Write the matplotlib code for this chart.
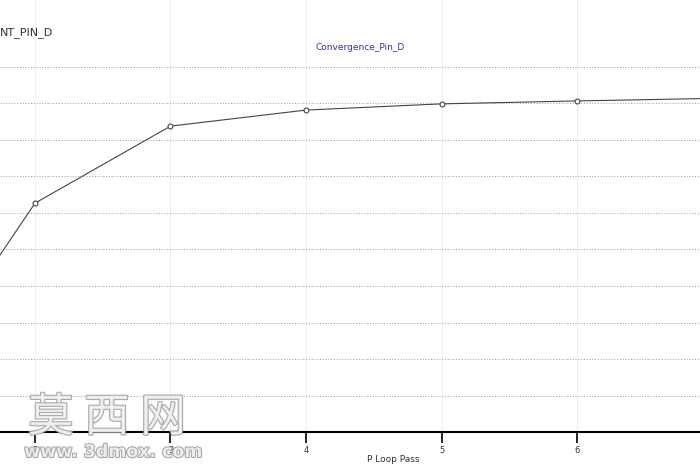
import matplotlib
matplotlib.use("Agg")
import matplotlib.pyplot as plt
import matplotlib.patheffects as pe

# Convergence values per P loop pass
passes = [1, 2, 3, 4, 5, 6, 7]
convergence = [0.077, 0.627, 0.838, 0.882, 0.899, 0.907, 0.914]
x_ticks = [2, 3, 4, 5, 6]
y_grid = [0.1, 0.2, 0.3, 0.4, 0.5, 0.6, 0.7, 0.8, 0.9, 1.0]

fig = plt.figure(figsize=(7, 4.65), dpi=100, facecolor="white")
# the screenshot is cropped: the axes run past the figure edges
ax = fig.add_axes([0, 33 / 465, 1, 432 / 465])

ax.plot(passes, convergence, color="#444444", lw=0.8, marker="o", ms=3.5,
        mfc="white", mec="#444444", mew=0.8)

ax.set_xticks(x_ticks)
ax.set_xticklabels([str(t) for t in x_ticks], fontsize=6, color="#333333")
ax.set_yticks(y_grid)
ax.set_xlim(2 - 35 / 135.5, 6 + 123 / 135.5)
ax.set_ylim(0, 432 / 365)
ax.tick_params(axis="x", direction="out", length=8, width=1.2, color="black", pad=2)
ax.tick_params(axis="y", left=False, labelleft=False)
ax.yaxis.grid(True, ls=(0, (1, 1.5)), color="#aaaaaa", lw=0.8)
ax.xaxis.grid(True, ls="-", color="#eeeeee", lw=0.8)
ax.set_axisbelow(True)
for s in ["top", "left", "right"]:
    ax.spines[s].set_visible(False)
ax.spines["bottom"].set_linewidth(1.5)
ax.spines["bottom"].set_color("black")

fig.text(0, 1 - 33 / 465, "NT_PIN_D", fontsize=8, color="#333333", va="center", ha="left")
fig.text(360 / 700, 1 - 48 / 465, "Convergence_Pin_D", fontsize=6.5, color="#3333aa",
         va="center", ha="center")
fig.text(393 / 700, 1 - 459 / 465, "P Loop Pass", fontsize=6.5, color="#333333",
         va="center", ha="center")

# watermark
wm = [pe.withStroke(linewidth=1.5, foreground="#999999")]
fig.text(107 / 700, 1 - 418 / 465, "莫 西 网", fontsize=33, color="#f4f4f4",
         family=["Noto Sans CJK SC", "DejaVu Sans"], ha="center", va="center",
         path_effects=wm, alpha=0.85)
fig.text(113 / 700, 1 - 452 / 465, "www. 3dmox. com", fontsize=12.5, color="#f4f4f4",
         ha="center", va="center", weight="bold", path_effects=wm, alpha=0.85)

fig.savefig("out.png", dpi=100, facecolor="white")
